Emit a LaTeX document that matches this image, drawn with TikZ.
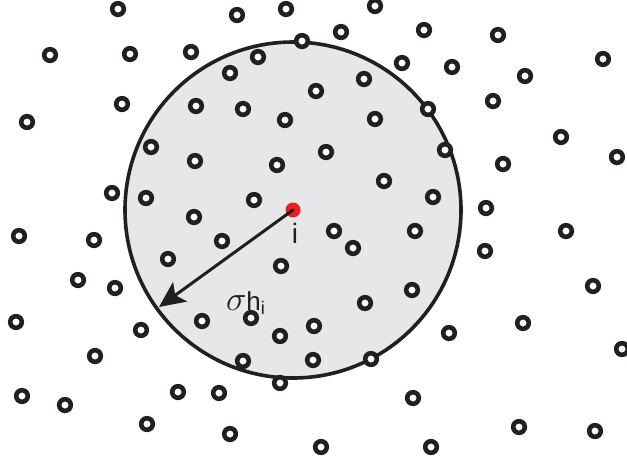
\documentclass[tikz,border=0pt]{standalone}
\usepackage{fontspec}
\setmainfont{Liberation Sans}
\usepackage{xcolor}
\usepackage{tikz}
\usetikzlibrary{arrows.meta}
\definecolor{discgray}{RGB}{230,231,232}
\definecolor{ptred}{RGB}{237,28,36}
\definecolor{ink}{RGB}{35,31,32}
\tikzset{
  particle/.style={draw=ink, line width=2.3pt, fill=white},
}

\begin{document}
\begin{tikzpicture}[x=0.5pt, y=-0.5pt, >={Stealth[length=13pt, width=12pt, inset=3pt]}]
    \useasboundingbox (0,0) rectangle (627,463);

    % Vùng ảnh hưởng bán kính sigma h_i
    \draw[line width=1.8pt, draw=ink, fill=discgray] (293,210) circle[radius=168];

    % Các hạt lân cận
    \foreach \px/\py in {118/9, 237/15, 286/9, 302/41, 50/55, 130/54, 191/52, 258/57,
        230/73, 316/91, 122/104, 196/106, 243/109, 285/120, 27/122, 151/147,
        195/161, 277/165, 112/193, 146/198, 254/200, 194/217, 19/236, 94/240, 222/241,
        375/6, 341/32, 424/30, 498/35, 603/59, 402/63, 452/67, 364/79, 525/76,
        493/101, 428/109, 375/119, 561/137, 326/152, 445/150, 617/157, 503/164,
        384/181, 433/197, 486/208, 334/231, 415/231, 566/231,
        168/259, 281/266, 78/280, 115/288, 16/322, 202/321, 251/318, 141/330,
        280/336, 314/326, 95/356, 243/361, 313/360, 280/383, 22/396, 65/405,
        178/392, 219/393, 147/424, 230/434, 321/447,
        353/248, 485/251, 593/286, 412/290, 365/303, 523/323, 449/333, 622/349,
        371/359, 413/398, 519/427, 595/431, 431/447}
        \draw[particle] (\px,\py) circle[radius=5.8];

    % Hạt i
    \node[circle, fill=ptred, inner sep=0pt, minimum size=7.5pt] (i) at (293,210) {};
    \node[anchor=base, font=\fontsize{14pt}{16pt}\selectfont, text=ink] (ilabel) at (295,243) {i};
    \coordinate (rim) at (159,307);

    % Mũi tên bán kính
    \draw[->, line width=1.5pt, line cap=round, draw=ink] (i.center) -- (rim);
    \node[anchor=base, inner sep=0pt, font=\fontsize{13pt}{15pt}\selectfont, text=ink] (sigmah) at (246,310)
        {{\fontsize{18pt}{18pt}\selectfont$\sigma$}h\textsubscript{i}};
\end{tikzpicture}
\end{document}
